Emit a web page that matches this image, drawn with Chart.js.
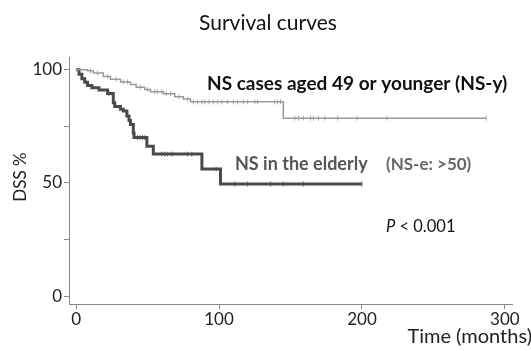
<!DOCTYPE html>
<html>
<head>
<meta charset="utf-8">
<script src="https://cdn.jsdelivr.net/npm/chart.js@4"></script>
<style>
  html, body { margin: 0; padding: 0; background: #fff; }
  #wrap { width: 531px; height: 351px; position: relative; }
</style>
</head>
<body>
<div id="wrap"><canvas id="km"></canvas></div>
<script>
// Kaplan-Meier step points (months, DSS %)
const youngTimes = [0, 8, 12, 19, 24, 31, 38, 42, 48, 52, 61, 69, 75, 80, 145, 287];
const youngSurv  = [100, 99.5, 98.5, 97, 95.8, 94.6, 93.4, 92.2, 91.2, 90.3, 89.4, 88, 87, 85.8, 78.6, 78.6];
const youngCensored = [10, 15, 22, 28, 33, 36, 45, 50, 55, 57, 60, 63, 66, 72, 78, 82, 85, 88, 90, 93, 96, 99,
  102, 106, 110, 113, 117, 120, 125, 127, 139, 141, 143, 153, 155.5, 159, 164, 166, 169.5, 174, 183, 196.5, 217.5, 287];

const elderTimes = [0, 2, 4, 6, 8, 11, 16, 22, 26, 27, 31, 33, 35.5, 37, 38, 40, 40.5, 49.5, 54, 88, 101, 200];
const elderSurv  = [100, 98, 96, 94.5, 93, 92, 91, 89.5, 85.4, 83.7, 82.5, 81.7, 79.5, 77.5, 75.8, 72, 70, 66.2, 62.7, 56.1, 49.5, 49.5];
const elderCensored = [23, 43, 45, 46.5, 48, 60, 62, 64, 67, 78, 81, 98, 111, 120, 136, 145, 159, 200];

const xTicks = [0, 100, 200, 300];
const yTicks = [0, 25, 50, 75, 100];
const yLabelled = [0, 50, 100];

const FONT = "Lato, 'Liberation Sans', sans-serif";
const AXIS = '#8a8a8a';

function levelAt(times, surv, t) {
    let v = surv[0];
    for (let i = 0; i < times.length; i++) {
        if (times[i] <= t) v = surv[i];
    }
    return v;
}

function stepData(times, surv) {
    return times.map((t, i) => ({ x: t, y: surv[i] }));
}

function censorData(marks, times, surv) {
    return marks.map(t => ({ x: t, y: levelAt(times, surv, t) }));
}

// labels drawn on the canvas after the chart
const annotations = {
    id: 'annotations',
    afterDraw(chart) {
        const c = chart.ctx;
        c.save();
        c.textBaseline = 'middle';

        c.fillStyle = '#111';
        c.font = `21px ${FONT}`;
        c.textAlign = 'center';
        c.fillText('Survival curves', 268, 23);

        c.textAlign = 'left';
        c.font = `bold 19px ${FONT}`;
        c.fillStyle = '#111';
        c.fillText('NS cases aged 49 or younger (NS-y)', 207, 84);

        c.font = `bold 18px ${FONT}`;
        c.fillStyle = '#555';
        c.fillText('NS in the elderly', 235, 164);
        c.font = `bold 17px ${FONT}`;
        c.fillStyle = '#666';
        c.fillText('(NS-e: >50)', 386, 165);

        c.fillStyle = '#111';
        c.font = `italic 16.5px ${FONT}`;
        c.fillText('P', 386, 227);
        const pw = c.measureText('P').width;
        c.font = `16.5px ${FONT}`;
        c.fillText(' < 0.001', 386 + pw, 227);

        c.textAlign = 'right';
        c.font = `20px ${FONT}`;
        c.fillStyle = '#222';
        c.fillText('Time (months)', 532, 337);

        c.translate(21, 177);
        c.rotate(-Math.PI / 2);
        c.textAlign = 'center';
        c.font = `17px ${FONT}`;
        c.fillText('DSS %', 0, 0);
        c.restore();
    }
};

new Chart(document.getElementById('km'), {
    type: 'line',
    data: {
        datasets: [
            {
                label: 'NS-y',
                data: stepData(youngTimes, youngSurv),
                stepped: 'before',
                borderColor: '#9a9a9a',
                borderWidth: 1.5,
                pointRadius: 0,
                fill: false
            },
            {
                label: 'NS-e',
                data: stepData(elderTimes, elderSurv),
                stepped: 'before',
                borderColor: '#4a4a4a',
                borderWidth: 3,
                pointRadius: 0,
                fill: false
            },
            {
                type: 'scatter',
                label: 'NS-y censored',
                data: censorData(youngCensored, youngTimes, youngSurv),
                pointStyle: 'line',
                rotation: 90,
                radius: 2.5,
                borderColor: '#aaa',
                borderWidth: 1
            },
            {
                type: 'scatter',
                label: 'NS-e censored',
                data: censorData(elderCensored, elderTimes, elderSurv),
                pointStyle: 'line',
                rotation: 90,
                radius: 2.5,
                borderColor: '#777',
                borderWidth: 1
            }
        ]
    },
    options: {
        responsive: true,
        maintainAspectRatio: false,
        animation: false,
        layout: { padding: { top: 57, right: 19, bottom: 0, left: 0 } },
        plugins: {
            legend: { display: false },
            tooltip: { enabled: false },
            title: { display: false }
        },
        scales: {
            x: {
                type: 'linear',
                min: -5,
                max: 305,
                afterBuildTicks: s => { s.ticks = xTicks.map(v => ({ value: v })); },
                afterFit: s => { s.height = 47; },
                grid: { drawOnChartArea: false, color: AXIS, tickLength: 5 },
                border: { color: AXIS, width: 1 },
                ticks: {
                    color: '#222',
                    padding: 0,
                    maxRotation: 0,
                    font: { family: FONT, size: 17 }
                }
            },
            y: {
                type: 'linear',
                min: -3.5,
                max: 105.6,
                afterBuildTicks: s => { s.ticks = yTicks.map(v => ({ value: v })); },
                afterFit: s => { s.width = 69; },
                grid: { drawOnChartArea: false, color: AXIS, tickLength: 5 },
                border: { color: AXIS, width: 1 },
                ticks: {
                    color: '#222',
                    padding: 2,
                    font: { family: FONT, size: 17 },
                    callback: v => (yLabelled.includes(v) ? String(v) : '')
                }
            }
        }
    },
    plugins: [annotations]
});
</script>
</body>
</html>
